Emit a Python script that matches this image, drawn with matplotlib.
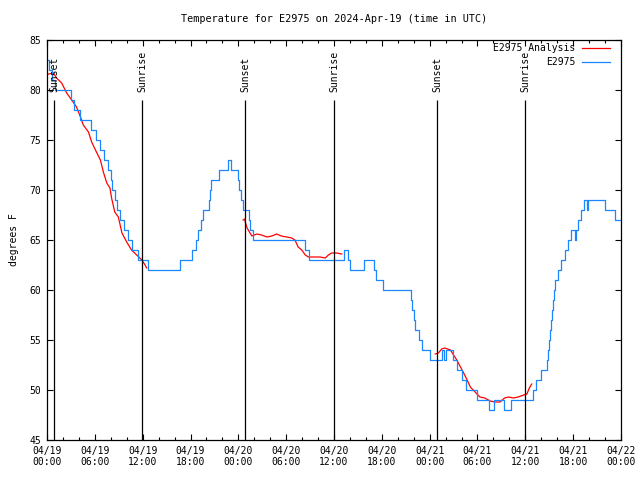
import matplotlib
matplotlib.use("Agg")
import matplotlib.pyplot as plt
from matplotlib.ticker import MultipleLocator

# hours since 2024-04-19 00:00 UTC
obs_hours = [0.1, 0.3, 0.6, 1.0, 2.95, 3.4, 4.2, 5.5, 6.1, 6.6, 7.2, 7.7, 8.0, 8.2,
             8.5, 8.8, 9.2, 9.6, 10.1, 10.6, 11.4, 12.7, 16.7, 18.2, 18.7, 19.0,
             19.3, 19.55, 20.35, 20.4, 20.55, 21.6, 22.7, 23.1, 23.9, 24.1, 24.35,
             24.6, 25.3, 25.5, 25.8, 32.3, 32.85, 37.25, 37.75, 37.95, 39.8, 41.0,
             41.3, 42.1, 45.6, 45.8, 46.0, 46.2, 46.6, 47.05, 48.0, 49.55, 49.8,
             50.0, 50.9, 51.45, 52.1, 52.6, 53.95, 55.4, 56.1, 57.35, 58.2, 61.0,
             61.35, 62.0, 62.7, 62.85, 63.0, 63.1, 63.2, 63.3, 63.45, 63.55, 63.7,
             64.1, 64.5, 65.0, 65.4, 65.7, 66.2, 66.4, 66.6, 67.0, 67.4, 67.7, 67.9,
             70.0, 71.2, 72.0]
obs_temps = [83, 82, 81, 80, 79, 78, 77, 76, 75, 74, 73, 72, 71, 70,
             69, 68, 67, 66, 65, 64, 63, 62, 63, 64, 65, 66,
             67, 68, 69, 70, 71, 72, 73, 72, 71, 70, 69,
             68, 67, 66, 65, 64, 63, 64, 63, 62, 63, 62,
             61, 60, 59, 58, 57, 56, 55, 54, 53, 54, 53,
             54, 53, 52, 51, 50, 49, 48, 49, 48, 49, 50,
             51, 52, 53, 54, 55, 56, 57, 58, 59, 60, 61,
             62, 63, 64, 65, 66, 65, 66, 67, 68, 69, 68, 69,
             68, 67, 67]

# analysis runs (three separate segments)
ana1_hours = [0.2, 0.8, 1.2, 1.84, 2.47, 3.1, 3.7, 4.2, 4.55, 5.2, 5.6, 6.2, 6.7,
              7.07, 7.5, 7.9, 8.1, 8.5, 8.95, 9.4, 10.0, 10.6, 11.25, 11.9, 12.3, 12.5]
ana1_temps = [81.6, 81.7, 81.2, 80.7, 79.7, 79.0, 78.3, 77.3, 76.5, 75.8, 74.8, 73.8,
              73.0, 71.8, 70.7, 70.2, 69.2, 67.8, 67.3, 65.7, 64.8, 64.0, 63.5, 63.0,
              62.5, 62.2]
ana2_hours = [24.6, 24.8, 24.9, 25.1, 25.47, 25.7, 26.3, 26.9, 27.6, 28.2, 28.8, 29.4,
              30.07, 30.7, 31.1, 31.5, 31.95, 32.4, 32.8, 33.6, 34.25, 34.9, 35.3,
              35.7, 36.3, 36.97]
ana2_temps = [67.0, 67.1, 66.7, 66.2, 65.7, 65.4, 65.6, 65.5, 65.3, 65.4, 65.6, 65.4,
              65.3, 65.2, 65.0, 64.3, 64.0, 63.5, 63.3, 63.3, 63.3, 63.2, 63.5, 63.7,
              63.7, 63.6]
ana3_hours = [48.7, 49.1, 49.5, 49.9, 50.6, 51.0, 51.4, 51.8, 52.2, 52.7, 53.1, 53.7,
              54.3, 54.9, 55.6, 56.2, 56.8, 57.4, 57.9, 58.5, 59.1, 59.8, 60.2, 60.5,
              60.8]
ana3_temps = [53.6, 53.7, 54.1, 54.2, 54.0, 53.5, 53.0, 52.4, 51.8, 51.0, 50.3, 49.8,
              49.3, 49.2, 48.9, 48.8, 48.8, 49.2, 49.3, 49.2, 49.3, 49.5, 49.6, 50.2,
              50.6]

sun_hours = [0.9, 11.95, 24.88, 36.03, 48.95, 60.0]
sun_labels = ["Sunset", "Sunrise", "Sunset", "Sunrise", "Sunset", "Sunrise"]

tick_hours = list(range(0, 73, 6))
tick_labels = ["04/19\n00:00", "04/19\n06:00", "04/19\n12:00", "04/19\n18:00",
               "04/20\n00:00", "04/20\n06:00", "04/20\n12:00", "04/20\n18:00",
               "04/21\n00:00", "04/21\n06:00", "04/21\n12:00", "04/21\n18:00",
               "04/22\n00:00"]

red = "#ff0000"
blue = "#1a86ff"
mono = "DejaVu Sans Mono"

fig = plt.figure(figsize=(6.4, 4.8), dpi=100)
ax = fig.add_axes([47 / 640, 40 / 480, 574 / 640, 400 / 480])

for xs, ys in [(ana1_hours, ana1_temps), (ana2_hours, ana2_temps), (ana3_hours, ana3_temps)]:
    ax.plot(xs, ys, color=red, lw=0.9)
ax.plot(obs_hours, obs_temps, color=blue, lw=0.9, drawstyle="steps-post")

ax.vlines(sun_hours, 45, 79, color="black", lw=0.9)
for h, lab in zip(sun_hours, sun_labels):
    ax.text(h, 79.8, lab, rotation=90, ha="center", va="bottom",
            family=mono, fontsize=7)

ax.set_xlim(0, 72)
ax.set_ylim(45, 85)
ax.set_xticks(tick_hours)
ax.set_xticklabels(tick_labels, family=mono, fontsize=7)
ax.xaxis.set_minor_locator(MultipleLocator(2))
ax.set_yticks(range(45, 86, 5))
ax.set_yticklabels([str(v) for v in range(45, 86, 5)], family=mono, fontsize=7)
ax.tick_params(which="both", direction="in", top=True, right=True, width=0.8)
ax.tick_params(which="major", length=4.5, pad=4)
ax.tick_params(which="minor", length=2.5)
for s in ax.spines.values():
    s.set_linewidth(0.9)

ax.set_ylabel("degrees F", family=mono, fontsize=7, labelpad=8)
ax.set_title("Temperature for E2975 on 2024-Apr-19 (time in UTC)",
             family=mono, fontsize=7.3, pad=13)

# legend, gnuplot style (text right-aligned, sample on the right)
for yy, lab, col in [(0.98, "E2975 Analysis", red), (0.945, "E2975", blue)]:
    ax.text(0.92, yy, lab, transform=ax.transAxes, ha="right", va="center",
            family=mono, fontsize=7)
    ax.plot([0.932, 0.981], [yy, yy], transform=ax.transAxes, color=col, lw=0.9)

fig.savefig("out.png", dpi=100)
